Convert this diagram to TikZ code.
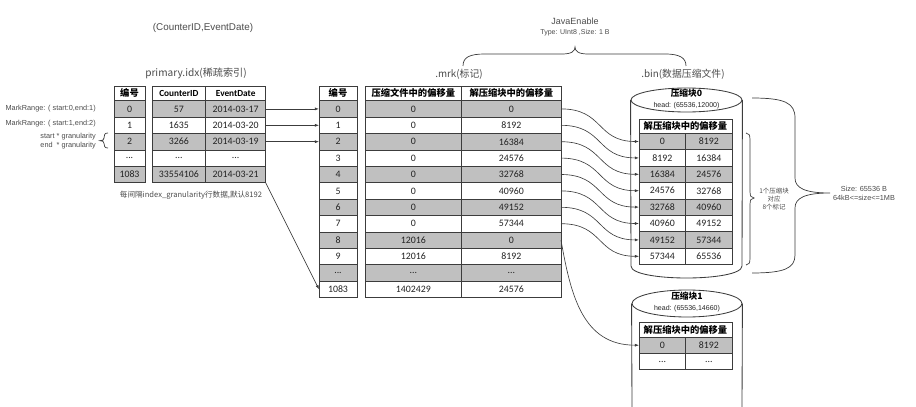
\documentclass[tikz,border=0pt]{standalone}
\usepackage{fontspec}
\setmainfont{Liberation Sans}
\newfontfamily\tabfont{Carlito}
\newfontfamily\cjk{Noto Sans CJK SC}
\usetikzlibrary{arrows.meta,shapes.geometric}
\definecolor{idxGray}{RGB}{192,192,192}
\definecolor{idxLine}{RGB}{60,60,60}
\definecolor{idxText}{RGB}{35,35,35}
\definecolor{noteText}{RGB}{75,75,75}
\newlength\unitpx
\setlength\unitpx{0.025cm}
\newcommand\skiprow{...}
\newcommand\celltxt{\fontsize{7}{8}\selectfont\tabfont}
\newcommand\headtxt{\fontsize{6.6}{8}\selectfont\tabfont\bfseries}

\begin{document}
\begin{tikzpicture}[x=0.025cm,y=-0.025cm,
    cell/.style={draw=idxLine,line width=0.5pt,inner sep=0pt,outer sep=0pt,
      minimum height=16.4\unitpx,text=idxText,font=\celltxt},
    headcell/.style={cell,fill=white,minimum height=14.7\unitpx,text=black,font=\headtxt},
    link/.style={draw=idxLine,line width=0.45pt,-{Latex[length=3pt,width=2.2pt]}},
    tube/.style={draw=idxLine,line width=0.6pt},
    curly/.style={draw=idxLine,line width=0.5pt},
    note/.style={inner sep=0pt,text=noteText}]
  \useasboundingbox (0,0) rectangle (916,407);

  % labels
  \node[note,font=\fontsize{7}{8}\selectfont] (keylbl) at (203,28) {(CounterID,EventDate)};
  \node[note,font=\fontsize{7.2}{8}\selectfont\cjk] (idxlbl) at (196,73) {primary.idx(稀疏索引)};
  \node[note,font=\fontsize{5.2}{6}\selectfont,anchor=east] (mr0) at (96,108.5) {MarkRange: ( start:0,end:1)};
  \node[note,font=\fontsize{5.2}{6}\selectfont,anchor=east] (mr1) at (96,124) {MarkRange: ( start:1,end:2)};
  \node[note,font=\fontsize{5.2}{6.4}\selectfont,anchor=east,align=right] (granlbl) at (96,141.5) {start * granularity\\end\ \ * granularity};
  \node[note,font=\fontsize{5.4}{6}\selectfont\cjk] (steplbl) at (191,195) {每间隔index\_granularity行数据,默认8192};
  \node[note,font=\fontsize{7}{8}\selectfont\cjk] (mrklbl) at (459,74) {.mrk(标记)};
  \node[note,font=\fontsize{6.4}{7}\selectfont] (javalbl) at (575,21) {JavaEnable};
  \node[note,font=\fontsize{5}{6}\selectfont] (typelbl) at (575,33) {Type: UInt8 ,Size: 1 B};
  \node[note,font=\fontsize{7}{8}\selectfont\cjk] (binlbl) at (683,74) {.bin(数据压缩文件)};
  \node[note,font=\fontsize{4.6}{6}\selectfont\cjk,align=center] (ratiolbl) at (774,199) {1个压缩块\\对应\\8个标记};
  \node[note,font=\fontsize{5.2}{6.4}\selectfont,align=center] (sizelbl) at (864,193) {Size: 65536 B\\64kB<=size<=1MB};

  % compressed block cylinders
  \node[ellipse,tube,minimum width=111\unitpx,minimum height=24\unitpx,inner sep=0pt] (blk0top) at (686.5,100) {};
  \draw[tube] (blk0top.west) -- (631,266) .. controls (631,282) and (742,282) .. (742,266) -- (blk0top.east);
  \node[font=\fontsize{6.2}{7}\selectfont\cjk\bfseries,inner sep=0pt] (b0name) at (686.5,93) {压缩块0};
  \node[note,font=\fontsize{5}{6}\selectfont,text=idxText] (b0head) at (686.5,105.5) {head: (65536,12000)};
  \node[ellipse,tube,minimum width=110\unitpx,minimum height=27\unitpx,inner sep=0pt] (blk1top) at (687,303.5) {};
  \draw[tube] (blk1top.west) -- (632,407);
  \draw[tube] (blk1top.east) -- (742,407);
  \node[font=\fontsize{6.2}{7}\selectfont\cjk\bfseries,inner sep=0pt] (b1name) at (687,296) {压缩块1};
  \node[note,font=\fontsize{5}{6}\selectfont,text=idxText] (b1head) at (687,309) {head: (65536,14660)};

  % primary.idx
  \node[headcell,minimum width=31\unitpx] (pnh) at (129.5,93.35) {\cjk 编号};
  \node[headcell,minimum width=53.7\unitpx] (pch) at (178.85,93.35) {CounterID};
  \node[headcell,minimum width=60\unitpx] (pdh) at (235.7,93.35) {EventDate};
  \foreach \i/\n/\c/\d in {0/0/57/2014-03-17,1/1/1635/2014-03-20,2/2/3266/2014-03-19,
      3/\skiprow/\skiprow/\skiprow,4/1083/33554106/2014-03-21}{
    \ifodd\i\relax\def\rowfill{white}\else\def\rowfill{idxGray}\fi
    \node[cell,fill=\rowfill,minimum width=31\unitpx] (pn\i) at (129.5,108.9+16.4*\i) {\n};
    \node[cell,fill=\rowfill,minimum width=53.7\unitpx] (pc\i) at (178.85,108.9+16.4*\i) {\c};
    \node[cell,fill=\rowfill,minimum width=60\unitpx] (pd\i) at (235.7,108.9+16.4*\i) {\d};
  }

  % .mrk
  \node[headcell,minimum width=38\unitpx] (mnh) at (338,93.35) {\cjk 编号};
  \node[headcell,minimum width=96.7\unitpx] (mfh) at (413.35,93.35) {\cjk 压缩文件中的偏移量};
  \node[headcell,minimum width=99.3\unitpx] (muh) at (511.35,93.35) {\cjk 解压缩块中的偏移量};
  \foreach \i/\n/\f/\u in {0/0/0/0,1/1/0/8192,2/2/0/16384,3/3/0/24576,4/4/0/32768,5/5/0/40960,
      6/6/0/49152,7/7/0/57344,8/8/12016/0,9/9/12016/8192,10/\skiprow/\skiprow/\skiprow,11/1083/1402429/24576}{
    \ifodd\i\relax\def\rowfill{white}\else\def\rowfill{idxGray}\fi
    \node[cell,fill=\rowfill,minimum width=38\unitpx] (mn\i) at (338,108.9+16.4*\i) {\n};
    \node[cell,fill=\rowfill,minimum width=96.7\unitpx] (mf\i) at (413.35,108.9+16.4*\i) {\f};
    \node[cell,fill=\rowfill,minimum width=99.3\unitpx] (mu\i) at (511.35,108.9+16.4*\i) {\u};
  }

  % offsets inside the blocks
  \node[headcell,minimum width=93\unitpx,minimum height=14\unitpx] (bah) at (685.5,126.3) {\cjk 解压缩块中的偏移量};
  \foreach \i/\a/\b in {0/0/8192,1/8192/16384,2/16384/24576,3/24576/32768,
      4/32768/40960,5/40960/49152,6/49152/57344,7/57344/65536}{
    \ifodd\i\relax\def\rowfill{white}\else\def\rowfill{idxGray}\fi
    \node[cell,fill=\rowfill,minimum width=46.7\unitpx] (ba\i) at (662.35,141.5+16.4*\i) {\a};
    \node[cell,fill=\rowfill,minimum width=46.3\unitpx] (bb\i) at (708.85,141.5+16.4*\i) {\b};
  }
  \node[headcell,minimum width=93\unitpx,minimum height=15\unitpx] (cah) at (685.5,329.5) {\cjk 解压缩块中的偏移量};
  \foreach \i/\a/\b in {0/0/8192,1/\skiprow/\skiprow}{
    \ifodd\i\relax\def\rowfill{white}\else\def\rowfill{idxGray}\fi
    \node[cell,fill=\rowfill,minimum width=46.7\unitpx] (ca\i) at (662.35,345.2+16.4*\i) {\a};
    \node[cell,fill=\rowfill,minimum width=46.3\unitpx] (cb\i) at (708.85,345.2+16.4*\i) {\b};
  }

  % links
  \foreach \i in {0,1,2}
    \draw[link] (pd\i.east) -- (mn\i.west);
  \draw[link] (pd4.south east) -- (mn11.west);
  \foreach \i in {0,...,7}
    \draw[link] (mu\i.east) to[out=0,in=180,looseness=1.3] (ba\i.west);
  \draw[link] (mu8.east) to[out=-80,in=180,looseness=1.1] (ca0.west);

  % braces
  \draw[curly] (108,133) .. controls (104.5,133) and (104,135) .. (104,138)
    .. controls (104,140) and (102.5,140.7) .. (100,140.7)
    .. controls (102.5,140.7) and (104,141.4) .. (104,143.4)
    .. controls (104,146) and (104.5,148) .. (108,148);
  \draw[curly] (463,66) .. controls (463,57) and (470,54) .. (485,54) -- (562,54)
    .. controls (572,54) and (575,51) .. (575,47)
    .. controls (575,51) and (578,54) .. (588,54) -- (665,54)
    .. controls (680,54) and (686,58) .. (686,66);
  \draw[curly] (746,133) .. controls (749,133) and (750,135) .. (750,140) -- (750,191)
    .. controls (750,196) and (751,198) .. (754,198)
    .. controls (751,198) and (750,200) .. (750,205) -- (750,258)
    .. controls (750,263) and (749,265) .. (746,265);
  \draw[curly] (752,98) .. controls (785,98) and (795,103) .. (795,118) -- (795,178)
    .. controls (795,188) and (805,193) .. (830,193)
    .. controls (805,193) and (795,198) .. (795,208) -- (795,255)
    .. controls (795,268) and (785,273) .. (752,273);
\end{tikzpicture}
\end{document}
